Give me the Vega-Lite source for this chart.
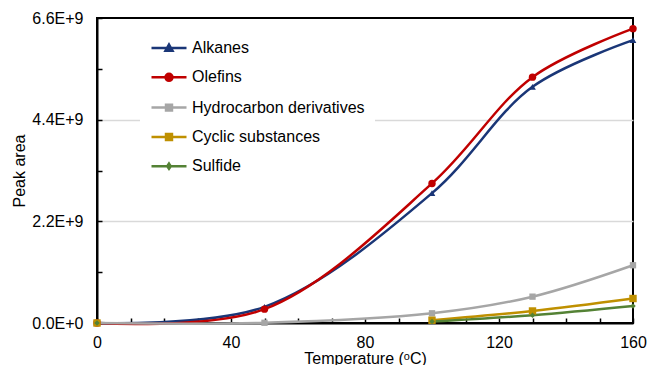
{
  "$schema": "https://vega.github.io/schema/vega-lite/v6.json",
  "width": 536,
  "height": 305,
  "autosize": "none",
  "padding": {"left": 97, "top": 18, "right": 15, "bottom": 42},
  "config": {
    "font": "Liberation Sans",
    "view": {"stroke": "black", "strokeWidth": 2},
    "axis": {"labelColor": "black", "titleColor": "black", "labelFontSize": 16, "titleFontSize": 16, "titleFontWeight": "normal", "domainColor": "black", "domainWidth": 2, "tickColor": "black", "tickWidth": 1.5}
  },
  "data": {
    "values": [
      {"series": "Alkanes", "temp": 0, "area": 0},
      {"series": "Alkanes", "temp": 50, "area": 350000000},
      {"series": "Alkanes", "temp": 100, "area": 2810000000},
      {"series": "Alkanes", "temp": 130, "area": 5110000000},
      {"series": "Alkanes", "temp": 160, "area": 6120000000},
      {"series": "Olefins", "temp": 0, "area": 0},
      {"series": "Olefins", "temp": 50, "area": 300000000},
      {"series": "Olefins", "temp": 100, "area": 3020000000},
      {"series": "Olefins", "temp": 130, "area": 5320000000},
      {"series": "Olefins", "temp": 160, "area": 6370000000},
      {"series": "Hydrocarbon derivatives", "temp": 0, "area": 0},
      {"series": "Hydrocarbon derivatives", "temp": 50, "area": 5000000},
      {"series": "Hydrocarbon derivatives", "temp": 100, "area": 210000000},
      {"series": "Hydrocarbon derivatives", "temp": 130, "area": 570000000},
      {"series": "Hydrocarbon derivatives", "temp": 160, "area": 1250000000},
      {"series": "Cyclic substances", "temp": 0, "area": 0},
      {"series": "Cyclic substances", "temp": 50, "area": null},
      {"series": "Cyclic substances", "temp": 100, "area": 60000000},
      {"series": "Cyclic substances", "temp": 130, "area": 260000000},
      {"series": "Cyclic substances", "temp": 160, "area": 530000000},
      {"series": "Sulfide", "temp": 0, "area": 0},
      {"series": "Sulfide", "temp": 50, "area": null},
      {"series": "Sulfide", "temp": 100, "area": 30000000},
      {"series": "Sulfide", "temp": 130, "area": 170000000},
      {"series": "Sulfide", "temp": 160, "area": 370000000}
    ]
  },
  "encoding": {
    "x": {
      "field": "temp", "type": "quantitative",
      "scale": {"domain": [0, 160], "nice": false, "zero": false},
      "axis": {
        "title": "Temperature (ᵒC)",
        "values": [0, 10, 20, 30, 40, 50, 60, 70, 80, 90, 100, 110, 120, 130, 140, 150, 160],
        "labelExpr": "datum.value % 40 == 0 ? datum.label : ''",
        "grid": false, "tickSize": -5, "labelPadding": 16, "titlePadding": 0, "labelFlush": false
      }
    },
    "y": {
      "field": "area", "type": "quantitative",
      "scale": {"domain": [0, 6600000000], "nice": false},
      "axis": {
        "title": "Peak area",
        "values": [0, 1100000000, 2200000000, 3300000000, 4400000000, 5500000000, 6600000000],
        "labelExpr": "round(datum.value/1.1e9) % 2 == 0 ? replace(format(datum.value, '.1e'), 'e', 'E') : ''",
        "grid": true, "gridColor": "#D9D9D9", "gridWidth": 1.5,
        "gridOpacity": {"condition": {"test": "datum.value > 1e9 && datum.value < 6e9 && round(datum.value/1.1e9) % 2 == 0", "value": 1}, "value": 0},
        "tickSize": -5, "labelPadding": 19, "titlePadding": 4, "labelFlush": false
      }
    },
    "color": {
      "field": "series", "type": "nominal",
      "scale": {
        "domain": ["Alkanes", "Olefins", "Hydrocarbon derivatives", "Cyclic substances", "Sulfide"],
        "range": ["#1A3677", "#C00000", "#A6A6A6", "#BF9000", "#548235"]
      }
    }
  },
  "layer": [
    {
      "mark": {"type": "line", "interpolate": "catmull-rom", "invalid": "break-paths-show-domains"},
      "encoding": {
        "strokeWidth": {
          "field": "series", "type": "nominal",
          "scale": {"domain": ["Alkanes", "Olefins", "Hydrocarbon derivatives", "Cyclic substances", "Sulfide"], "range": [2.5, 2.5, 2.5, 2.5, 4]},
          "legend": null
        },
        "color": {
          "field": "series", "type": "nominal",
          "scale": {
            "domain": ["Alkanes", "Olefins", "Hydrocarbon derivatives", "Cyclic substances", "Sulfide"],
            "range": ["#1A3677", "#C00000", "#A6A6A6", "#BF9000", "#548235"]
          },
          "legend": {
            "title": null,
            "orient": "none",
            "legendX": 43,
            "legendY": 1,
            "padding": 10,
            "fillColor": "white",
            "labelFontSize": 16,
            "labelColor": "black",
            "labelOffset": 4,
            "labelLimit": 300,
            "rowPadding": 2.3,
            "symbolSize": 1225,
            "symbolStrokeWidth": 2.5,
            "encode": {
              "symbols": {
                "update": {
                  "shape": {"signal": "datum.value === 'Alkanes' ? 'M-1,0H1M0,-0.2L0.2,0.15L-0.2,0.15Z' : datum.value === 'Olefins' ? 'M-1,0H1M0.2,0A0.2,0.2,0,1,1,-0.2,0A0.2,0.2,0,1,1,0.2,0Z' : datum.value === 'Sulfide' ? 'M-1,0H1M0,-0.15L0.1,0L0,0.15L-0.1,0Z' : 'M-1,0H1M-0.17,-0.17H0.17V0.17H-0.17Z'"},
                  "fill": {"scale": "color", "field": "value"},
                  "stroke": {"scale": "color", "field": "value"},
                  "strokeWidth": {"signal": "datum.value === 'Sulfide' ? 4 : 2.5"}
                }
              }
            }
          }
        }
      }
    },
    {
      "transform": [{"filter": "datum.series === 'Alkanes'"}],
      "mark": {"type": "point", "filled": true, "opacity": 1, "shape": "triangle-up", "size": 45}
    },
    {
      "transform": [{"filter": "datum.series === 'Olefins'"}],
      "mark": {"type": "point", "filled": true, "opacity": 1, "shape": "circle", "size": 55}
    },
    {
      "transform": [{"filter": "datum.series === 'Hydrocarbon derivatives'"}],
      "mark": {"type": "point", "filled": true, "opacity": 1, "shape": "square", "size": 40}
    },
    {
      "transform": [{"filter": "datum.series === 'Cyclic substances'"}],
      "mark": {"type": "point", "filled": true, "opacity": 1, "shape": "square", "size": 55}
    },
    {
      "transform": [{"filter": "datum.series === 'Sulfide'"}],
      "mark": {"type": "point", "filled": true, "opacity": 1, "shape": "diamond", "size": 30}
    }
  ]
}
